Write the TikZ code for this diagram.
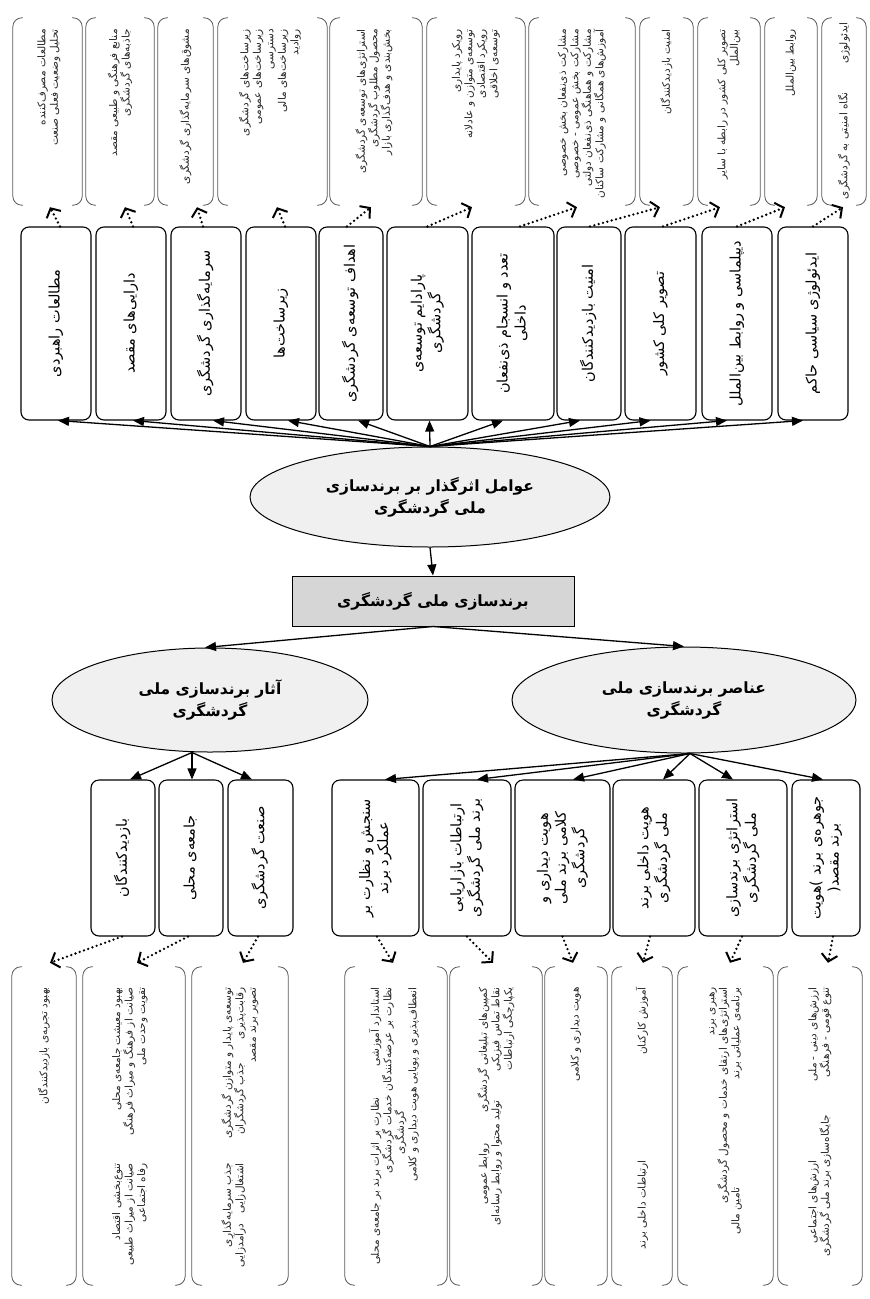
\documentclass[tikz,border=0pt]{standalone}
\usepackage{fontspec}
\usepackage{graphicx}
\usetikzlibrary{arrows.meta,shapes.geometric,calc}
\newfontfamily\arabicfont[Script=Arabic]{DejaVu Sans}
\TeXXeTstate=1
\newcommand\fa[1]{{\arabicfont\beginR #1\endR}}
\newcommand\vt[1]{\rotatebox{90}{\begin{tabular}{@{}c@{}}#1\end{tabular}}}
\newcommand\two[3]{#3\makebox[#1][r]{#2}}
\newcommand\three[5]{#5\makebox[#2][r]{#4}\makebox[#1][r]{#3}}
\newcommand\brkt[1]{%
  \draw[brk] ([xshift=10pt]#1.north west) -- (#1.north west) -- (#1.south west) -- ([xshift=10pt]#1.south west);
  \draw[brk] ([xshift=-10pt]#1.north east) -- (#1.north east) -- (#1.south east) -- ([xshift=-10pt]#1.south east);}
\definecolor{ellfill}{HTML}{F0F0F0}
\definecolor{boxfill}{HTML}{D6D6D6}
\tikzset{
 tbox/.style={draw, line width=1.1pt, rounded corners=8pt, inner sep=0pt, font=\fontsize{14.5}{18}\selectfont},
 lbox/.style={draw=none, inner sep=0pt},
 brk/.style={draw=black!65, line width=0.8pt, rounded corners=9pt},
 ltxt/.style={rotate=90, anchor=east, align=right, inner sep=0pt, font=\fontsize{10.5}{12.5}\selectfont, text=black!85},
 ell/.style={ellipse, draw, line width=1pt, fill=ellfill, inner sep=0pt, align=center, font=\fontsize{15.5}{22}\selectfont\bfseries},
 cbox/.style={draw, line width=1pt, fill=boxfill, inner sep=0pt, font=\fontsize{15.5}{22}\selectfont\bfseries},
 sol/.style={-{Triangle[length=11pt,width=9pt]}, line width=1.3pt},
 dots/.style={-{Straight Barb[length=7pt,width=16pt,line width=2pt]}, line width=2.6pt, dash pattern=on 0pt off 4.5pt, line cap=round},
 frame/.style={double, double distance=1.2pt, line width=0.5pt},
}
\begin{document}
\begin{tikzpicture}[x=1pt,y=-1pt]
\useasboundingbox (0,0) rectangle (870,1299);
\draw[frame] (7,1299) -- (7,7) -- (870,7);

% ---------- top boxes ----------
\node[tbox, minimum width=70pt, minimum height=193pt] (b1) at (56,323.5) {\vt{\fa{مطالعات راهبردی}}};
\node[tbox, minimum width=70pt, minimum height=193pt] (b2) at (131,323.5) {\vt{\fa{دارایی‌های مقصد}}};
\node[tbox, minimum width=70pt, minimum height=193pt] (b3) at (206,323.5) {\vt{\fa{سرمایه‌گذاری گردشگری}}};
\node[tbox, minimum width=70pt, minimum height=193pt] (b4) at (281,323.5) {\vt{\fa{زیرساخت‌ها}}};
\node[tbox, minimum width=64pt, minimum height=193pt] (b5) at (351,323.5) {\vt{\fa{اهداف توسعه‌ی گردشگری}}};
\node[tbox, minimum width=81pt, minimum height=193pt] (b6) at (427.5,323.5) {\vt{\fa{پارادایم توسعه‌ی}\\\fa{گردشگری}}};
\node[tbox, minimum width=82pt, minimum height=193pt] (b7) at (513,323.5) {\vt{\fa{تعدد و انسجام ذی‌نفعان}\\\fa{داخلی}}};
\node[tbox, minimum width=64pt, minimum height=193pt] (b8) at (589,323.5) {\vt{\fa{امنیت بازدیدکنندگان}}};
\node[tbox, minimum width=71pt, minimum height=193pt] (b9) at (660.5,323.5) {\vt{\fa{تصویر کلی کشور}}};
\node[tbox, minimum width=70pt, minimum height=193pt] (b10) at (737,323.5) {\vt{\fa{دیپلماسی و روابط بین‌الملل}}};
\node[tbox, minimum width=70pt, minimum height=193pt] (b11) at (813,323.5) {\vt{\fa{ایدئولوژی سیاسی حاکم}}};

% ---------- top light boxes ----------
\node[lbox, minimum width=69pt, minimum height=187pt] (l1) at (47.5,111.5) {};
\node[lbox, minimum width=68pt, minimum height=187pt] (l2) at (120,111.5) {};
\node[lbox, minimum width=55pt, minimum height=187pt] (l3) at (185.5,111.5) {};
\node[lbox, minimum width=109pt, minimum height=187pt] (l4) at (272.5,111.5) {};
\node[lbox, minimum width=92pt, minimum height=187pt] (l5) at (376,111.5) {};
\node[lbox, minimum width=98pt, minimum height=187pt] (l6) at (476,111.5) {};
\node[lbox, minimum width=106pt, minimum height=187pt] (l7) at (582,111.5) {};
\node[lbox, minimum width=53pt, minimum height=187pt] (l8) at (666.5,111.5) {};
\node[lbox, minimum width=62pt, minimum height=187pt] (l9) at (729,111.5) {};
\node[lbox, minimum width=52pt, minimum height=187pt] (l10) at (791,111.5) {};
\node[lbox, minimum width=44pt, minimum height=187pt] (l11) at (844,111.5) {};
\foreach \n in {l1,l2,l3,l4,l5,l6,l7,l8,l9,l10,l11} {\brkt{\n}}

\node[ltxt] (t1) at (49,29) {\fa{مطالعات مصرف‌کننده}\\\fa{تحلیل وضعیت فعلی صنعت}};
\node[ltxt] (t2) at (120,29) {\fa{منابع فرهنگی و طبیعی مقصد}\\\fa{جاذبه‌های گردشگری}};
\node[ltxt] (t3) at (185.5,29) {\fa{مشوق‌های سرمایه‌گذاری گردشگری}};
\node[ltxt] (t4) at (270,29) {\fa{زیرساخت‌های گردشگری}\\\fa{زیرساخت‌های عمومی}\\\fa{دسترسی}\\\fa{زیرساخت‌های مالی}\\\fa{روادید}};
\node[ltxt] (t5) at (374,29) {\fa{استراتژی‌های توسعه‌ی گردشگری}\\\fa{محصول مطلوب گردشگری}\\\fa{بخش‌بندی و هدف‌گذاری بازار}};
\node[ltxt] (t6) at (476,29) {\fa{رویکرد پایداری}\\\fa{توسعه‌ی متوازن و عادلانه}\\\fa{رویکرد اقتصادی}\\\fa{توسعه‌ی اخلاقی}};
\node[ltxt] (t7) at (582,29) {\fa{مشارکت ذی‌نفعان بخش خصوصی}\\\fa{مشارکت بخش عمومی - خصوصی}\\\fa{مشارکت و هماهنگی ذی‌نفعان دولتی}\\\fa{آموزش‌های همگانی و مشارکت ساکنان}};
\node[ltxt] (t8) at (666.5,29) {\fa{امنیت بازدیدکنندگان}};
\node[ltxt] (t9) at (729,29) {\fa{تصویر کلی کشور در رابطه با سایر}\\\fa{بین‌الملل}};
\node[ltxt] (t10) at (791,29) {\fa{روابط بین‌الملل}};
\node[ltxt] (t11) at (844,22) {\two{70pt}{\fa{ایدئولوژی}}{\fa{نگاه امنیتی به گردشگری}}};

% ---------- central ----------
\node[ell, minimum width=360pt, minimum height=100pt] (e1) at (430,497) {\fa{عوامل اثرگذار بر برندسازی}\\\fa{ملی گردشگری}};
\node[cbox, minimum width=282pt, minimum height=50pt] (c) at (433,601) {\fa{برندسازی ملی گردشگری}};
\node[ell, minimum width=316pt, minimum height=104pt] (el) at (210,700) {\fa{آثار برندسازی ملی}\\\fa{گردشگری}};
\node[ell, minimum width=344pt, minimum height=106pt] (er) at (684,700) {\fa{عناصر برندسازی ملی}\\\fa{گردشگری}};

% ---------- bottom boxes ----------
\node[tbox, minimum width=64pt, minimum height=156pt] (B1) at (123,858) {\vt{\fa{بازدیدکنندگان}}};
\node[tbox, minimum width=64pt, minimum height=156pt] (B2) at (191,858) {\vt{\fa{جامعه‌ی محلی}}};
\node[tbox, minimum width=65pt, minimum height=156pt] (B3) at (260.5,858) {\vt{\fa{صنعت گردشگری}}};
\node[tbox, minimum width=87pt, minimum height=156pt] (B4) at (375.5,858) {\vt{\fa{سنجش و نظارت بر}\\\fa{عملکرد برند}}};
\node[tbox, minimum width=88pt, minimum height=156pt] (B5) at (467,858) {\vt{\fa{ارتباطات بازاریابی}\\\fa{برند ملی گردشگری}}};
\node[tbox, minimum width=95pt, minimum height=156pt] (B6) at (562.5,858) {\vt{\fa{هویت دیداری و}\\\fa{کلامی برند ملی}\\\fa{گردشگری}}};
\node[tbox, minimum width=82pt, minimum height=156pt] (B7) at (654,858) {\vt{\fa{هویت داخلی برند}\\\fa{ملی گردشگری}}};
\node[tbox, minimum width=88pt, minimum height=156pt] (B8) at (743,858) {\vt{\fa{استراتژی برندسازی}\\\fa{ملی گردشگری}}};
\node[tbox, minimum width=68pt, minimum height=156pt] (B9) at (826,858) {\vt{\fa{جوهره‌ی برند \mbox{)}هویت}\\\fa{برند مقصد\mbox{(}}}};

% ---------- bottom light boxes ----------
\node[lbox, minimum width=64pt, minimum height=318pt] (m1) at (44,1126) {};
\node[lbox, minimum width=102pt, minimum height=318pt] (m2) at (134,1126) {};
\node[lbox, minimum width=96pt, minimum height=318pt] (m3) at (240,1126) {};
\node[lbox, minimum width=102pt, minimum height=318pt] (m4) at (396,1126) {};
\node[lbox, minimum width=92pt, minimum height=318pt] (m5) at (496,1126) {};
\node[lbox, minimum width=62pt, minimum height=318pt] (m6) at (576,1126) {};
\node[lbox, minimum width=60pt, minimum height=318pt] (m7) at (642,1126) {};
\node[lbox, minimum width=95pt, minimum height=318pt] (m8) at (725.5,1126) {};
\node[lbox, minimum width=84pt, minimum height=318pt] (m9) at (820,1126) {};
\foreach \n in {m1,m2,m3,m4,m5,m6,m7,m8,m9} {\brkt{\n}}

\node[ltxt] (u1) at (44,987) {\fa{بهبود تجربه‌ی بازدیدکنندگان}};
\node[ltxt] (u2) at (130,987) {\two{176pt}{\fa{بهبود معیشت جامعه‌ی محلی}}{\fa{تنوع‌بخشی اقتصاد}}\\\two{176pt}{\fa{صیانت از فرهنگ و میراث فرهنگی}}{\fa{صیانت از میراث طبیعی}}\\\two{176pt}{\fa{تقویت وحدت ملی}}{\fa{رفاه اجتماعی}}};
\node[ltxt] (u3) at (240,987) {\two{176pt}{\fa{توسعه‌ی پایدار و متوازن گردشگری}}{\fa{جذب سرمایه‌گذاری}}\\\three{76pt}{100pt}{\fa{رقابت‌پذیری}}{\fa{جذب گردشگران}}{\fa{اشتغال‌زایی\hspace{10pt}درآمدزایی}}\\\fa{تصویر برند مقصد}};
\node[ltxt] (u4) at (394,987) {\two{110pt}{\fa{استاندارد آموزشی}}{\fa{نظارت بر اثرات برند بر جامعه‌ی محلی}}\\\fa{نظارت بر عرضه‌کنندگان خدمات گردشگری}\\\two{123pt}{}{\fa{گردشگری}}\\\fa{انعطاف‌پذیری و پویایی هویت دیداری و کلامی}};
\node[ltxt] (u5) at (496,987) {\two{156pt}{\fa{کمپین‌های تبلیغاتی گردشگری}}{\fa{روابط عمومی}}\\\two{113pt}{\fa{نقاط تماس فیزیکی}}{\fa{تولید محتوا و روابط رسانه‌ای}}\\\fa{یکپارچگی ارتباطات}};
\node[ltxt] (u6) at (576,987) {\fa{هویت دیداری و کلامی}};
\node[ltxt] (u7) at (642,987) {\two{173pt}{\fa{آموزش کارکنان}}{\fa{ارتباطات داخلی برند}}};
\node[ltxt] (u8) at (725.5,987) {\fa{رهبری برند}\\\fa{استراتژی‌های ارتقای خدمات و محصول گردشگری}\\\two{200pt}{\fa{برنامه‌ی عملیاتی برند}}{\fa{تامین مالی}}};
\node[ltxt] (u9) at (820,987) {\two{173pt}{\fa{ارزش‌های دینی - ملی}}{\fa{ارزش‌های اجتماعی}}\\\two{128pt}{\fa{تنوع قومی - فرهنگی}}{\fa{جایگاه‌سازی برند ملی گردشگری}}};

% ---------- solid arrows ----------
\foreach \n/\s in {b1/2pt,b2/2pt,b3/7pt,b4/7pt,b5/7pt,b6/2pt,b7/-10pt,b8/-9pt,b9/-10pt,b10/-10pt,b11/-10pt}
  {\draw[sol] (e1.north) -- ([xshift=\s]\n.south);}
\draw[sol] (e1.south) -- (c.north);
\draw[sol] (c.south) -- (er.north);
\draw[sol] (c.south) -- ([xshift=-5pt]el.north);
\foreach \n/\s in {B1/7pt,B2/1pt,B3/-8.5pt}
  {\draw[sol] ([xshift=-18pt]el.south) -- ([xshift=\s]\n.north);}
\foreach \n/\s in {B4/9.5pt,B5/10pt,B6/10.5pt,B7/9pt,B8/-10pt,B9/-3pt}
  {\draw[sol] ([xshift=6pt]er.south) -- ([xshift=\s]\n.north);}

% ---------- dotted arrows ----------
\foreach \b/\bs/\l/\ls in {b1/4pt/l1/2.5pt, b2/2pt/l2/5pt, b3/-3pt/l3/11.5pt, b4/4pt/l4/4.5pt, b5/-4pt/l5/-5pt, b6/0pt/l6/-4pt, b7/7pt/l7/-5pt, b8/1pt/l8/-6.5pt, b9/2.5pt/l9/-9pt, b10/0pt/l10/-6pt, b11/0pt/l11/-1pt}
  {\draw[dots] ([xshift=\bs]\b.north) -- ([xshift=\ls,yshift=-2pt]\l.south);}
\foreach \b/\bs/\l/\ls in {B1/-1pt/m1/6pt, B2/-3pt/m2/3pt, B3/-2.5pt/m3/3pt, B4/1.5pt/m4/-3pt, B5/0pt/m5/-3pt, B6/0pt/m6/-3pt, B7/-4pt/m7/1pt, B8/-1pt/m8/4.5pt, B9/7pt/m9/8pt}
  {\draw[dots] ([xshift=\bs]\b.south) -- ([xshift=\ls,yshift=4pt]\l.north);}
\end{tikzpicture}
\end{document}
